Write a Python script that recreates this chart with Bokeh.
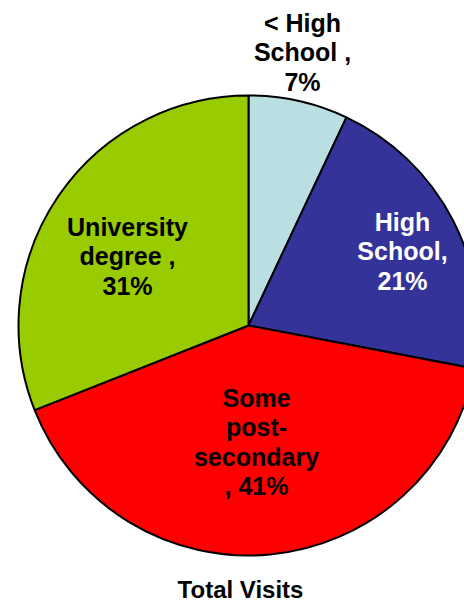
import math
from bokeh.plotting import figure
from bokeh.models import Range1d, ColumnDataSource
from bokeh.core.properties import value
from bokeh.embed import file_html
from bokeh.resources import INLINE

# ---- data ----
categories = ["< High School", "High School", "Some post-secondary", "University degree"]
percents = [7, 21, 41, 31]
colors = ["#B9DFE3", "#333399", "#FF0000", "#99CC00"]
label_lines = [["< High", "School ,", "7%"],
               ["High", "School,", "21%"],
               ["Some", "post-", "secondary", ", 41%"],
               ["University", "degree ,", "31%"]]
label_colors = ["black", "white", "black", "black"]
title_text = "Total Visits"

# ---- layout (page pixel coords, y flipped) ----
W, H = 464, 602
cx, cy, R = 248, H - 325, 230
label_centers = [(302, 22), (402, 221), (256, 397), (127, 226)]
line_gap = 29.5
FONT = "Liberation Sans"
FS = "25px"

p = figure(width=W, height=H, output_backend="svg", toolbar_location=None,
           x_range=Range1d(0, W), y_range=Range1d(0, H),
           min_border=0, outline_line_color=None)
p.axis.visible = False
p.grid.visible = False
p.background_fill_color = "white"
p.border_fill_color = "white"

total = sum(percents)
cum = 0
starts, ends = [], []
for v in percents:
    a0 = math.pi / 2 - 2 * math.pi * (cum + v) / total
    a1 = math.pi / 2 - 2 * math.pi * cum / total
    starts.append(a0)
    ends.append(a1)
    cum += v

src = ColumnDataSource(dict(cat=categories, val=percents, color=colors,
                            start=starts, end=ends))
p.wedge(x=cx, y=cy, radius=R, start_angle="start", end_angle="end",
        fill_color="color", line_color="black", line_width=2, source=src)

xs, ys, txt, tcol = [], [], [], []
for (lx, ly), lines, c in zip(label_centers, label_lines, label_colors):
    for i, t in enumerate(lines):
        xs.append(lx)
        ys.append(H - (ly + i * line_gap))
        txt.append(t)
        tcol.append(c)
p.text(x=xs, y=ys, text=txt, text_color=tcol, text_font=value(FONT),
       text_font_size=FS, text_font_style="bold", text_align="center",
       text_baseline="middle")

p.text(x=[240], y=[H - 589], text=[title_text], text_color="black",
       text_font=value(FONT), text_font_size="24px", text_font_style="bold",
       text_align="center", text_baseline="middle")

open("out.html", "w").write(file_html(p, INLINE))
